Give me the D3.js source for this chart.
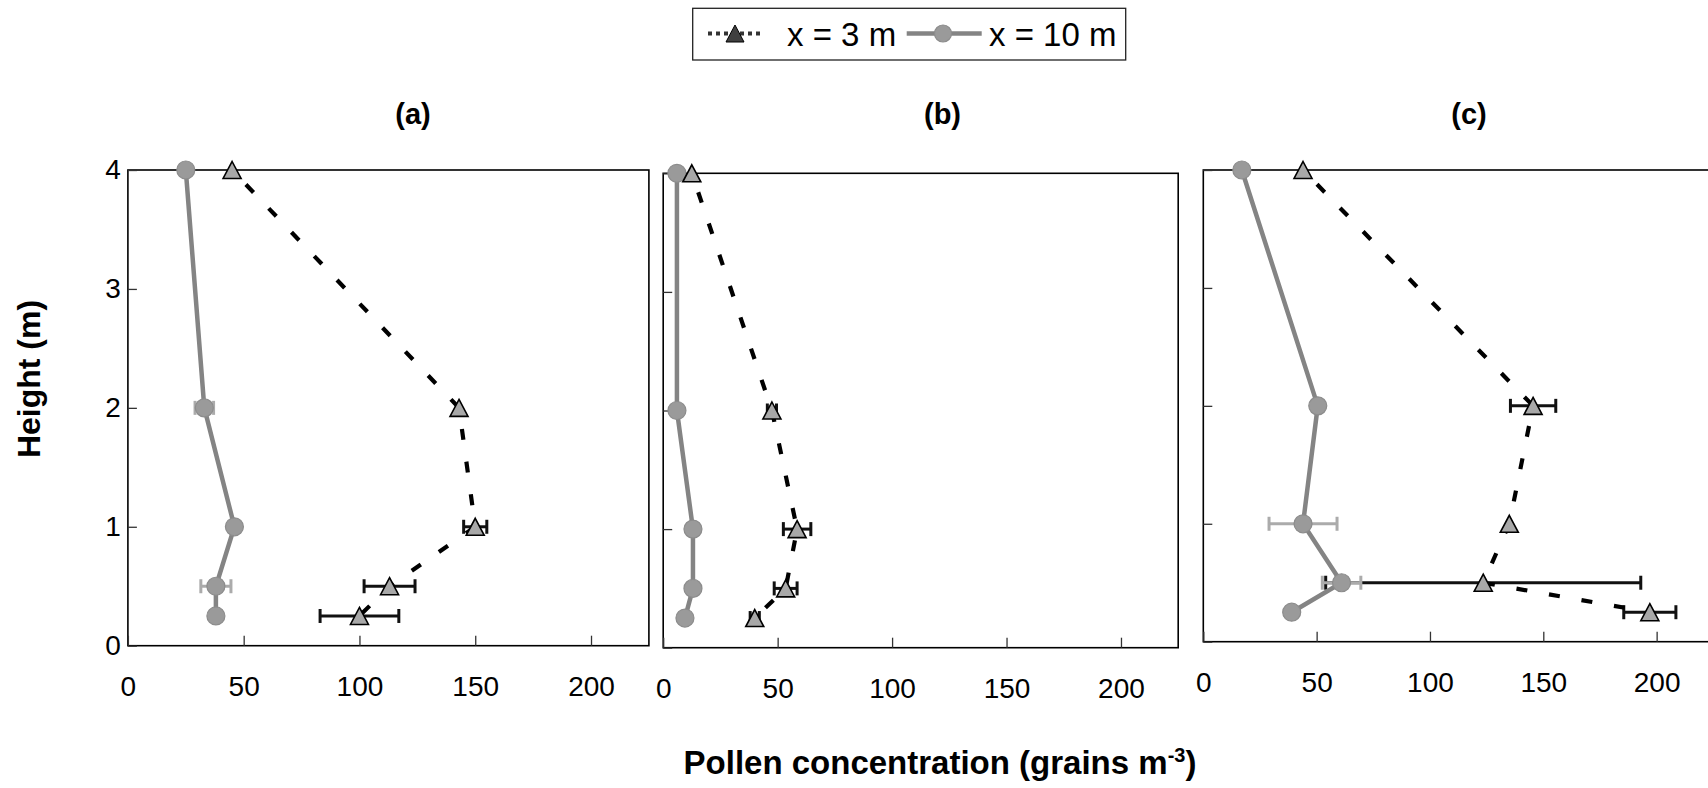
<!DOCTYPE html>
<html>
<head>
<meta charset="utf-8">
<script src="https://cdn.jsdelivr.net/npm/d3@7"></script>
<style>
  html, body { margin: 0; padding: 0; background: #fff; }
  svg { display: block; font-family: "Liberation Sans", Arial, sans-serif; }
</style>
</head>
<body>
<svg id="chart" width="1708" height="788"></svg>
<script>
// ---------- data ----------
const heights = [4, 2, 1, 0.5, 0.25];
const xTicks = [0, 50, 100, 150, 200];
const yTicks = [0, 1, 2, 3, 4];
const panelTitles = ["(a)", "(b)", "(c)"];
const seriesNames = ["x = 3 m", "x = 10 m"];

const a3 = [45, 143, 150, 113, 100];
const a3err = [0, 0, 5, 11, 17];
const a10 = [25, 33, 46, 38, 38];
const a10err = [0, 4, 0, 6.5, 0];

const b3 = [12.5, 47.5, 58.5, 53.5, 40];
const b3err = [0, 2, 6, 5, 2];
const b10 = [6, 6, 13, 13, 9.5];
const b10err = [0, 0, 2, 0, 0];

const c3 = [44, 145.5, 135, 123.5, 197];
const c3err = [0, 10, 0, 69.5, 11.5];
const c10 = [17, 50.5, 44, 61, 39];
const c10err = [0, 1.5, 15, 8.5, 0];

const panelData = [
  { s3: a3, e3: a3err, s10: a10, e10: a10err },
  { s3: b3, e3: b3err, s10: b10, e10: b10err },
  { s3: c3, e3: c3err, s10: c10, e10: c10err }
];

// ---------- layout ----------
const layout = [
  { left: 127.9,  top: 170,   bottom: 645.7, width: 521,   titleX: 413 },
  { left: 663.2,  top: 173.3, bottom: 647.7, width: 515,   titleX: 942.5 },
  { left: 1203.3, top: 170,   bottom: 641.7, width: 510,   titleX: 1469 }
];
const xMax = 225;

const svg = d3.select("#chart");

const C = {
  gray: "#848484",
  circleFill: "#9a9a9a",
  circleStroke: "#8c8c8c",
  triFill: "#a8a8a8",
  errGray: "#ababab",
  black: "#000"
};

function triPath(w, h) {
  return `M0,${-h/2}L${w/2},${h/2}L${-w/2},${h/2}Z`;
}

layout.forEach((L, i) => {
  const D = panelData[i];
  const x = d3.scaleLinear().domain([0, xMax]).range([L.left, L.left + L.width]);
  const y = d3.scaleLinear().domain([0, 4]).range([L.bottom, L.top]);
  const g = svg.append("g");

  // frame
  g.append("rect")
    .attr("x", L.left).attr("y", L.top)
    .attr("width", L.width).attr("height", L.bottom - L.top)
    .attr("fill", "none").attr("stroke", "#000").attr("stroke-width", 1.6);

  // y axis (ticks inward)
  const yAx = d3.axisLeft(y).tickValues(yTicks).tickSize(-9).tickPadding(7)
    .tickFormat(i === 0 ? d3.format("d") : () => "");
  const ya = g.append("g").attr("transform", `translate(${L.left},0)`).call(yAx);
  ya.select(".domain").remove();
  ya.selectAll(".tick line").attr("stroke", "#333").attr("stroke-width", 1.3);
  ya.selectAll(".tick text").attr("font-size", 28).attr("fill", "#000")
    .attr("font-family", "Liberation Sans, Arial, sans-serif");

  // x axis (ticks upward)
  const xAx = d3.axisBottom(x).tickValues(xTicks).tickSize(-10).tickPadding(30)
    .tickFormat(d3.format("d"));
  const xa = g.append("g").attr("transform", `translate(0,${L.bottom})`).call(xAx);
  xa.select(".domain").remove();
  xa.selectAll(".tick line").attr("stroke", "#333").attr("stroke-width", 1.3);
  xa.selectAll(".tick text").attr("font-size", 28).attr("fill", "#000")
    .attr("font-family", "Liberation Sans, Arial, sans-serif");

  // title
  g.append("text").attr("x", L.titleX).attr("y", 124)
    .attr("text-anchor", "middle").attr("font-size", 29).attr("font-weight", "bold")
    .text(panelTitles[i]);

  const pts3 = heights.map((h, k) => ({ h, v: D.s3[k], e: D.e3[k] }));
  const pts10 = heights.map((h, k) => ({ h, v: D.s10[k], e: D.e10[k] }));

  function errBars(pts, color, cap) {
    const eb = g.append("g").attr("stroke", color).attr("stroke-width", 3).attr("fill", "none");
    pts.filter(d => d.e > 0).forEach(d => {
      const yy = y(d.h), x0 = x(d.v - d.e), x1 = x(d.v + d.e);
      eb.append("line").attr("x1", x0).attr("x2", x1).attr("y1", yy).attr("y2", yy);
      eb.append("line").attr("x1", x0).attr("x2", x0).attr("y1", yy - cap).attr("y2", yy + cap);
      eb.append("line").attr("x1", x1).attr("x2", x1).attr("y1", yy - cap).attr("y2", yy + cap);
    });
  }
  errBars(pts3, "#111", 7);
  errBars(pts10, C.errGray, 7);

  const line = d3.line().x(d => x(d.v)).y(d => y(d.h));
  g.append("path").datum(pts10).attr("d", line)
    .attr("fill", "none").attr("stroke", C.gray).attr("stroke-width", 4.5);
  g.append("path").datum(pts3).attr("d", line)
    .attr("fill", "none").attr("stroke", C.black).attr("stroke-width", 4.2)
    .attr("stroke-dasharray", "11,22").attr("stroke-dashoffset", -20);

  g.selectAll(".c10").data(pts10).enter().append("circle")
    .attr("cx", d => x(d.v)).attr("cy", d => y(d.h)).attr("r", 9)
    .attr("fill", C.circleFill).attr("stroke", C.circleStroke).attr("stroke-width", 1.2);

  g.selectAll(".t3").data(pts3).enter().append("path")
    .attr("d", triPath(18, 17))
    .attr("transform", d => `translate(${x(d.v)},${y(d.h)})`)
    .attr("fill", C.triFill).attr("stroke", "#000").attr("stroke-width", 1.6)
    .attr("stroke-linejoin", "miter");
});

// axis titles
const xt = svg.append("text").attr("x", 940).attr("y", 774)
  .attr("text-anchor", "middle").attr("font-size", 33).attr("font-weight", "bold");
xt.append("tspan").text("Pollen concentration (grains m");
xt.append("tspan").attr("font-size", 20).attr("dy", -12).text("-3");
xt.append("tspan").attr("dy", 12).text(")");

svg.append("text")
  .attr("transform", "translate(40,379) rotate(-90)")
  .attr("text-anchor", "middle").attr("font-size", 32).attr("font-weight", "bold")
  .text("Height (m)");

// legend
const lg = svg.append("g");
lg.append("rect").attr("x", 692.7).attr("y", 8.3).attr("width", 433).attr("height", 51.7)
  .attr("fill", "#fff").attr("stroke", "#222").attr("stroke-width", 1.3);
const ly = 33.5;
lg.append("line").attr("x1", 708).attr("x2", 760).attr("y1", ly).attr("y2", ly)
  .attr("stroke", "#333").attr("stroke-width", 4).attr("stroke-dasharray", "4,4");
lg.append("path").attr("d", triPath(18, 17)).attr("transform", `translate(735,${ly})`)
  .attr("fill", "#404040").attr("stroke", "#000").attr("stroke-width", 1);
lg.append("text").attr("x", 787).attr("y", 45.5).attr("font-size", 33).text(seriesNames[0]);
lg.append("line").attr("x1", 906.7).attr("x2", 981.7).attr("y1", ly).attr("y2", ly)
  .attr("stroke", C.gray).attr("stroke-width", 4.5);
lg.append("circle").attr("cx", 943).attr("cy", ly).attr("r", 8.5)
  .attr("fill", C.circleFill).attr("stroke", C.circleStroke).attr("stroke-width", 1.2);
lg.append("text").attr("x", 989).attr("y", 45.5).attr("font-size", 33).text(seriesNames[1]);
</script>
</body>
</html>
